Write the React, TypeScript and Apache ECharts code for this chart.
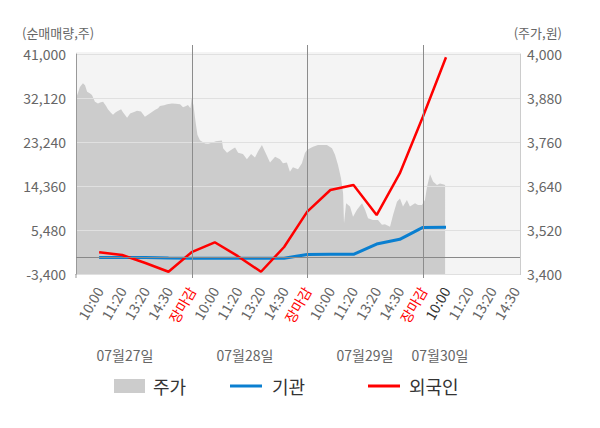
import React, { useEffect, useRef } from "react";
import * as echarts from "echarts";

// x positions are in "slot" units: each trading day spans 5 slots
const SLOT_LABELS = ["10:00", "11:20", "13:20", "14:30", "장마감"];
const DAY_LABELS = ["07월27일", "07월28일", "07월29일", "07월30일"];
const X_MAX = 19.2;

const LEFT_MIN = -3400;
const LEFT_MAX = 41000;
const LEFT_INTERVAL = 8880;
const RIGHT_MIN = 3400;
const RIGHT_MAX = 4000;
const RIGHT_INTERVAL = 120;

const netSlots = [1, 2, 3, 4, 5, 6, 7, 8, 9, 10, 11, 12, 13, 14, 15, 16];
const foreignNet = [980, 430, -1180, -2940, 1000, 3000, 200, -2950, 2050, 9200, 13550, 14560, 8500, 16900, 28340, 40330];
const institutionNet = [-50, -50, -60, -180, -200, -200, -200, -200, -200, 550, 570, 570, 2650, 3600, 6000, 6050];

const priceSlots = [
  0, 0.09, 0.17, 0.3, 0.39, 0.48, 0.61, 0.69, 0.82, 0.95, 1.04, 1.17, 1.3, 1.38, 1.51, 1.6, 1.69, 1.77, 1.95, 2.03,
  2.21, 2.34, 2.51, 2.64, 2.81, 2.98, 3.11, 3.19, 3.41, 3.55, 3.63, 3.81, 3.94, 4.15, 4.32, 4.5, 4.63, 4.76, 4.84, 4.95,
  5.0, 5.08, 5.17, 5.25, 5.36, 5.58, 5.71, 5.88, 6.05, 6.31, 6.36, 6.53, 6.75, 6.88, 7.01, 7.22, 7.39, 7.57, 7.74, 7.87,
  8.04, 8.17, 8.39, 8.61, 8.82, 8.95, 9.12, 9.25, 9.38, 9.6, 9.77, 9.9,
  9.99, 10.12, 10.25, 10.46, 10.68, 10.85, 11.07, 11.2, 11.33, 11.46, 11.55, 11.59, 11.68, 11.85, 11.98, 12.15, 12.37,
  12.5, 12.63, 12.84, 13.06, 13.23, 13.36, 13.58, 13.71, 13.88, 14.01, 14.14, 14.31, 14.44, 14.66, 14.79, 14.96,
  15.09, 15.18, 15.31, 15.44, 15.61, 15.74, 15.87, 15.96,
];
const priceValues = [
  3879, 3895, 3910, 3920, 3915, 3897, 3892, 3888, 3870, 3865, 3868, 3870, 3858, 3849, 3840, 3834, 3840, 3843, 3849, 3841,
  3826, 3838, 3842, 3845, 3843, 3829, 3834, 3838, 3847, 3852, 3858, 3860, 3863, 3865, 3864, 3863, 3855, 3858, 3861, 3852,
  3879, 3860, 3815, 3780, 3765, 3756, 3755, 3758, 3762, 3764, 3743, 3731, 3740, 3745, 3731, 3727, 3713, 3727, 3718, 3734,
  3752, 3734, 3704, 3720, 3713, 3702, 3704, 3679, 3691, 3686, 3702, 3730,
  3738, 3743, 3747, 3752, 3752, 3752, 3743, 3725, 3697, 3661, 3620, 3538, 3593, 3584, 3556, 3575, 3593,
  3575, 3552, 3547, 3547, 3534, 3536, 3529, 3561, 3597, 3606, 3584, 3602, 3584, 3593, 3588, 3588,
  3602, 3638, 3672, 3652, 3643, 3647, 3645, 3643,
];

const DAY_LABEL_X = [125, 245, 365, 440];

const FONT = '"Noto Sans CJK KR", "Noto Sans", sans-serif';

function xLabel(v: number): string {
  if (v === 0 || Math.abs(v - Math.round(v)) > 1e-6) return "";
  const k = Math.round(v);
  const pos = (k - 1) % 5;
  const day = Math.floor((k - 1) / 5);
  const t = SLOT_LABELS[pos];
  if (pos === 4) return `{r|${t}}`;
  if (day === 3 && pos === 0) return `{d|${t}}`;
  return t;
}

export default function App() {
  const ref = useRef<HTMLDivElement>(null);
  useEffect(() => {
    if (!ref.current) return;
    const chart = echarts.init(ref.current, undefined, { renderer: "svg" });
    const legendText = { fontSize: 18, color: "#333", fontFamily: FONT };
    const option: any = {
      animation: false,
      textStyle: { fontFamily: FONT },
      grid: { left: 76, right: 80, top: 54, bottom: 154 },
      legend: [
        {
          left: 114, top: 377, padding: 0, itemWidth: 31, itemHeight: 14, selectedMode: false,
          data: [{ name: "주가", icon: "rect" }],
          textStyle: { ...legendText, padding: [0, 0, 0, 3] },
        },
        {
          left: 230, top: 377, padding: 0, itemWidth: 32, itemHeight: 3, selectedMode: false,
          data: [{ name: "기관", icon: "rect" }],
          textStyle: { ...legendText, padding: [0, 0, 0, 5] },
        },
        {
          left: 368, top: 377, padding: 0, itemWidth: 32, itemHeight: 3, selectedMode: false,
          data: [{ name: "외국인", icon: "rect" }],
          textStyle: { ...legendText, padding: [0, 0, 0, 4] },
        },
      ],
      xAxis: {
        type: "value", min: 0, max: X_MAX, interval: 1,
        axisLine: { show: true, onZero: false, lineStyle: { color: "#999" } },
        axisTick: { show: false },
        splitLine: { show: false },
        axisLabel: {
          rotate: 60, margin: 14, fontSize: 14, color: "#666", fontFamily: FONT,
          showMinLabel: true, showMaxLabel: true,
          formatter: xLabel,
          rich: {
            r: { color: "#ff0000", fontSize: 14, fontFamily: FONT },
            d: { color: "#333", fontSize: 14, fontFamily: FONT },
          },
        },
      },
      yAxis: [
        {
          type: "value", min: LEFT_MIN, max: LEFT_MAX, interval: LEFT_INTERVAL, position: "left", z: 2,
          axisLine: { show: true, lineStyle: { color: "#999" } },
          axisTick: { show: false },
          splitLine: { show: true, lineStyle: { color: "#e0e0e0" } },
          axisLabel: { fontSize: 14, color: "#666", margin: 10, fontFamily: FONT, formatter: (v: number) => v.toLocaleString("en-US") },
        },
        {
          type: "value", min: RIGHT_MIN, max: RIGHT_MAX, interval: RIGHT_INTERVAL, position: "right",
          axisLine: { show: true, lineStyle: { color: "#ccc" } },
          axisTick: { show: false },
          splitLine: { show: false },
          axisLabel: { fontSize: 14, color: "#666", margin: 7, fontFamily: FONT, formatter: (v: number) => v.toLocaleString("en-US") },
        },
      ],
      series: [
        {
          name: "주가", type: "line", yAxisIndex: 1, z: 1, symbol: "none",
          data: priceSlots.map((s, i) => [s, priceValues[i]]),
          lineStyle: { width: 0, color: "#cccccc" },
          itemStyle: { color: "#cccccc" },
          areaStyle: { color: "#cccccc", opacity: 1, origin: "start" },
        },
        {
          name: "기관", type: "line", yAxisIndex: 0, z: 3, symbol: "none",
          data: netSlots.map((s, i) => [s, institutionNet[i]]),
          lineStyle: { width: 3, color: "#0a7fd0" },
          itemStyle: { color: "#0a7fd0" },
          markLine: {
            silent: true, symbol: "none", label: { show: false },
            lineStyle: { color: "#888", type: "solid", width: 1 },
            data: [{ yAxis: 0 }],
          },
        },
        {
          name: "외국인", type: "line", yAxisIndex: 0, z: 4, symbol: "none",
          data: netSlots.map((s, i) => [s, foreignNet[i]]),
          lineStyle: { width: 2.5, color: "#ff0000" },
          itemStyle: { color: "#ff0000" },
        },
      ],
    };
    chart.setOption(option);

    const px = (v: number) => chart.convertToPixel({ xAxisIndex: 0 }, v) as number;
    const py = (v: number) => chart.convertToPixel({ yAxisIndex: 0 }, v) as number;
    const x0 = px(0);
    const x1 = px(X_MAX);
    const yTop = py(LEFT_MAX);
    const yBot = py(LEFT_MIN);
    const graphics: any[] = [
      {
        type: "rect", silent: true, z: -10,
        shape: { x: x0, y: yTop - 2, width: x1 - x0, height: yBot - yTop + 2 },
        style: { fill: "#f4f4f4" },
      },
      {
        type: "line", silent: true, z: 10,
        shape: { x1: x0, y1: yBot, x2: x0, y2: yBot + 4 },
        style: { stroke: "#999", lineWidth: 1 },
      },
      ...[5, 10, 15].map((d) => ({
        type: "line", silent: true, z: 10,
        shape: { x1: Math.round(px(d)) + 0.5, y1: yTop - 9, x2: Math.round(px(d)) + 0.5, y2: yBot + 4 },
        style: { stroke: "#8c8c8c", lineWidth: 1 },
      })),
      {
        type: "text", silent: true, left: 22, top: 26,
        style: { text: "(순매매량,주)", fill: "#666", font: `13px ${FONT}` },
      },
      {
        type: "text", silent: true, right: 38, top: 26,
        style: { text: "(주가,원)", fill: "#666", font: `13px ${FONT}` },
      },
      ...DAY_LABELS.map((t, i) => ({
        type: "text", silent: true, x: DAY_LABEL_X[i], y: 355,
        style: { text: t, fill: "#666", font: `14px ${FONT}`, align: "center", verticalAlign: "middle" },
      })),
    ];
    chart.setOption({ graphic: graphics });
    return () => chart.dispose();
  }, []);
  return <div ref={ref} style={{ position: "absolute", left: 0, top: 0, width: 600, height: 428 }} />;
}
